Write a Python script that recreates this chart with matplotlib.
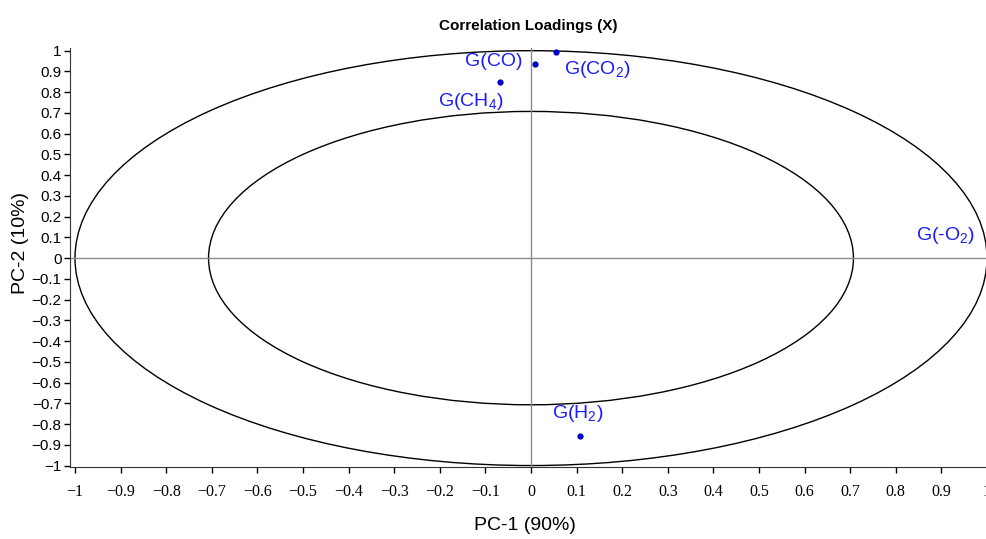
import numpy as np
import matplotlib
matplotlib.use('Agg')
import matplotlib.pyplot as plt
from matplotlib.patches import Circle

plt.rcParams['font.family'] = ['Liberation Sans', 'DejaVu Sans']
plt.rcParams['mathtext.fontset'] = 'custom'
plt.rcParams['mathtext.rm'] = 'Liberation Sans'

# loadings
names = ['G(CO$_\\mathregular{2}$)', 'G(CO)', 'G(CH$_\\mathregular{4}$)',
         'G(H$_\\mathregular{2}$)', 'G(-O$_\\mathregular{2}$)']
pc1 = [0.055, 0.009, -0.068, 0.107, 1.005]
pc2 = [0.995, 0.935, 0.848, -0.858, 0.0]

# label offsets (points) and alignment
offsets = [(6, -13), (-9, 2), (-21, -14), (-1.5, 16.5), (-10, 16)]
aligns = ['left', 'right', 'center', 'center', 'right']

radii = [1.0, np.sqrt(0.5)]
ticks = np.round(np.arange(-1, 1.01, 0.1), 1)
tick_labels = ['%g' % t if t != 0 else '0' for t in ticks]

fig = plt.figure(figsize=(9.87, 5.39), dpi=100)
ax = fig.add_axes([0.0709, 0.1336, 0.9291, 0.777])

for r in radii:
    ax.add_patch(Circle((0, 0), r, fill=False, color='black', lw=1.0))
ax.axhline(0, color='#8c8c8c', lw=1.0)
ax.axvline(0, color='#8c8c8c', lw=1.0)

ax.plot(pc1, pc2, 'o', color='#0000c8', ms=3.5, ls='none')
for n, x, y, off, ha in zip(names, pc1, pc2, offsets, aligns):
    ax.annotate(n, (x, y), xytext=off, textcoords='offset points',
                ha=ha, va='center', color='#1a1aff', fontsize=14,
                annotation_clip=False)

ax.set_xlim(-1.011, 0.991)
ax.set_ylim(-1.007, 1.012)
ax.set_xticks(ticks)
ax.set_xticklabels([l.replace('-', '\u2212') for l in tick_labels],
                   family='Liberation Serif', fontsize=11.5)
ax.set_yticks(ticks)
ax.set_yticklabels([l.replace('-', '\u2212') for l in tick_labels], fontsize=11)
ax.tick_params(direction='out', length=4, width=1, pad=8)
ax.tick_params(axis='y', pad=2)
for s in ['top', 'right']:
    ax.spines[s].set_visible(False)
for s in ['left', 'bottom']:
    ax.spines[s].set_color('#333333')

ax.set_title('Correlation Loadings (X)', fontsize=11, fontweight='bold', pad=13)
ax.set_xlabel('PC-1 (90%)', fontsize=14)
ax.set_ylabel('PC-2 (10%)', fontsize=14)
ax.xaxis.set_label_coords(0.496, -0.12)
ax.yaxis.set_label_coords(-0.045, 0.535)

fig.savefig('out.png', dpi=100)
